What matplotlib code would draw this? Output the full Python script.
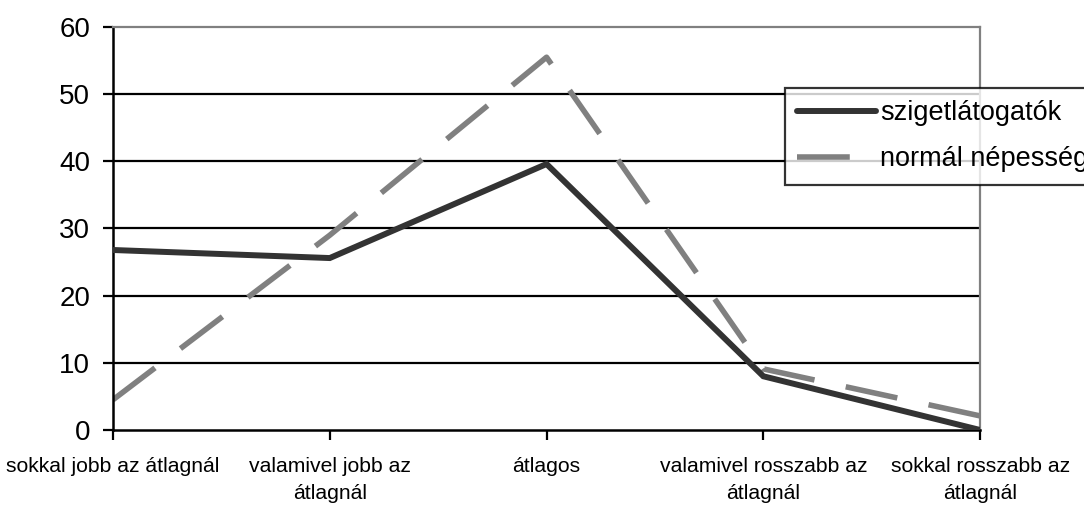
import matplotlib
matplotlib.use('Agg')
import matplotlib.pyplot as plt
import numpy as np

plt.rcParams['font.family'] = ['Liberation Sans', 'DejaVu Sans']

categories = ['sokkal jobb az átlagnál', 'valamivel jobb az\nátlagnál', 'átlagos',
              'valamivel rosszabb az\nátlagnál', 'sokkal rosszabb az\nátlagnál']
sziget = [26.8, 25.6, 39.6, 8.0, 0.0]
normal = [4.5, 29.0, 55.5, 9.1, 2.1]
yticks = [0, 10, 20, 30, 40, 50, 60]

fig = plt.figure(figsize=(10.84, 5.08), dpi=100)
ax = fig.add_axes([0.1042, 0.1535, 0.8, 0.7934])

x = np.arange(len(categories))
for yv in yticks[1:-1]:
    ax.axhline(yv, color='black', lw=1.6, zorder=1)

ax.plot(x, sziget, color='#333333', lw=4.3, solid_capstyle='round',
        solid_joinstyle='miter', label='szigetlátogatók', zorder=3)
ax.plot(x, normal, color='#808080', lw=4.0, dashes=(9.5, 5.75), dash_capstyle='butt',
        label='normál népesség', zorder=2)

ax.set_xlim(0, 4)
ax.set_ylim(0, 60)
ax.set_yticks(yticks)
ax.set_yticklabels([str(v) for v in yticks], fontsize=20)
ax.set_xticks(x)
ax.set_xticklabels(categories, fontsize=15.2, linespacing=1.55)
ax.tick_params(axis='y', length=7.5, width=1.6, pad=9, color='black')
ax.tick_params(axis='x', length=7.5, width=1.6, pad=12, color='black')

ax.spines['left'].set_color('black')
ax.spines['left'].set_linewidth(1.8)
ax.spines['bottom'].set_color('black')
ax.spines['bottom'].set_linewidth(1.8)
ax.spines['top'].set_color('#808080')
ax.spines['top'].set_linewidth(1.6)
ax.spines['right'].set_color('#808080')
ax.spines['right'].set_linewidth(1.6)

leg = fig.legend(loc='upper left', bbox_to_anchor=(785 / 1084, 1 - 88 / 508),
                 fontsize=19.5, frameon=True, fancybox=False, handlelength=2.9,
                 handletextpad=0.15, borderpad=0.45, labelspacing=0.75, borderaxespad=0)
leg.get_frame().set_edgecolor('black')
leg.get_frame().set_linewidth(1.6)

fig.savefig('out.png', dpi=100)
